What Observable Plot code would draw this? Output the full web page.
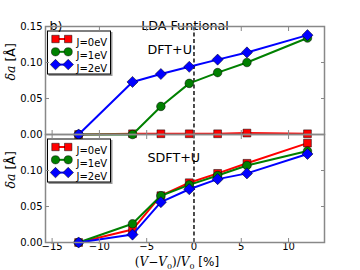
<!DOCTYPE html>
<html><head><meta charset="utf-8">
<script src="https://cdn.jsdelivr.net/npm/d3@7"></script>
<script src="https://cdn.jsdelivr.net/npm/@observablehq/plot@0.6"></script>
<style>body{margin:0;background:#fff}#chart{width:360px;height:270px}</style>
</head><body><div id="chart"></div>
<script>
// ---- data ----
const strain = [-12.2, -6.5, -3.5, -0.5, 2.5, 5.6, 12.0];
const panels = ["DFT+U", "SDFT+U"];
const seriesNames = ["J=0eV", "J=1eV", "J=2eV"];
const dftJ0  = [0.000, 0.001, 0.001, 0.001, 0.001, 0.002, 0.001];
const dftJ1  = [0.000, 0.000, 0.039, 0.071, 0.086, 0.100, 0.134];
const dftJ2  = [0.000, 0.073, 0.084, 0.094, 0.104, 0.114, 0.138];
const sdftJ0 = [0.000, 0.018, 0.065, 0.083, 0.096, 0.110, 0.138];
const sdftJ1 = [0.000, 0.026, 0.065, 0.080, 0.093, 0.107, 0.127];
const sdftJ2 = [0.000, 0.011, 0.056, 0.074, 0.088, 0.096, 0.123];
const xTicks = [-15, -10, -5, 0, 5, 10];
const yTicks = [0, 0.05, 0.10, 0.15];
const title = "LDA Funtional";
const panelTag = "b)";

// ---- build tables ----
const byPanel = {"DFT+U": [dftJ0, dftJ1, dftJ2], "SDFT+U": [sdftJ0, sdftJ1, sdftJ2]};
const rows = [];
panels.forEach(p => byPanel[p].forEach((vals, si) => vals.forEach((v, i) =>
  rows.push({panel: p, series: seriesNames[si], x: strain[i], y: v}))));
const panelRows = panels.map(p => ({panel: p}));
const yTickRows = panels.flatMap(p => yTicks.filter(t => p === panels[0] || t < 0.15).map(t => ({panel: p, y: t})));
const xTickRows = xTicks.map(t => ({panel: panels[1], x: t}));

const colors = ["#ff0000", "#008000", "#0000ff"];
const symbols = ["square", "circle", "diamond2"];
const radii = [4.4, 4.3, 5.0];
const segment = {draw(ctx) { ctx.moveTo(-6.4, 0); ctx.lineTo(6.4, 0); }};
const font = "DejaVu Sans";
const fmtX = d => d < 0 ? "\u2212" + (-d) : String(d);
const axisColor = "#888";

const marks = [];
// dashed zero line
marks.push(Plot.ruleX([0], {stroke: "black", strokeWidth: 1.4, strokeDasharray: "4,2.5"}));
// series
seriesNames.forEach((s, si) => {
  const d = rows.filter(r => r.series === s);
  marks.push(Plot.line(d, {x: "x", y: "y", fy: "panel", stroke: colors[si], strokeWidth: 2}));
  marks.push(Plot.dot(d, {x: "x", y: "y", fy: "panel", symbol: symbols[si], r: radii[si],
    fill: colors[si], stroke: "black", strokeWidth: 0.5}));
});
// legend boxes
marks.push(Plot.frame({insetLeft: 3.5, insetTop: 6, insetRight: 212.5, insetBottom: 59, stroke: "#999", fill: "#999", strokeWidth: 1}));
marks.push(Plot.frame({insetLeft: 2, insetTop: 4.5, insetRight: 214, insetBottom: 60.5, stroke: "black", fill: "white", strokeWidth: 1}));
seriesNames.forEach((s, si) => {
  const dy = 12.5 + 12.8 * si;
  marks.push(Plot.dot(panelRows, {fy: "panel", frameAnchor: "top-left", dx: 16.3, dy, symbol: segment,
    stroke: colors[si], strokeWidth: 2, fill: "none"}));
  [10, 22.7].forEach(dx => marks.push(Plot.dot(panelRows, {fy: "panel", frameAnchor: "top-left", dx, dy,
    symbol: symbols[si], r: radii[si] * 0.95, fill: colors[si], stroke: "black", strokeWidth: 0.5})));
  marks.push(Plot.text(panelRows, {fy: "panel", frameAnchor: "top-left", dx: 31, dy, text: () => s,
    textAnchor: "start", fontSize: 10, fontFamily: font}));
});
// panel labels
marks.push(Plot.text(panelRows, {fy: "panel", text: "panel", frameAnchor: "top-left", dx: 102, dy: 18.5,
  textAnchor: "start", fontSize: 12.7, fontFamily: font}));
// title and tag
marks.push(Plot.text([{panel: panels[0]}], {fy: "panel", text: () => title, frameAnchor: "top", dy: -6,
  fontSize: 12.7, fontFamily: font}));
marks.push(Plot.text([{panel: panels[0]}], {fy: "panel", text: () => panelTag, frameAnchor: "top-left", dx: 4, dy: -6,
  textAnchor: "start", fontSize: 12.7, fontFamily: font}));
// axes: inward ticks on all sides
marks.push(Plot.axisY({ticks: yTicks, anchor: "left", tickSize: -4, tickFormat: () => "", stroke: axisColor, label: null}));
marks.push(Plot.axisY({ticks: yTicks, anchor: "right", tickSize: -4, tickFormat: () => "", stroke: axisColor, label: null}));
marks.push(Plot.axisX({ticks: xTicks, anchor: "top", tickSize: -4, tickFormat: () => "", stroke: axisColor, label: null, facetAnchor: null}));
marks.push(Plot.axisX({ticks: xTicks, anchor: "bottom", tickSize: -4, tickFormat: () => "", stroke: axisColor, label: null, facetAnchor: null}));
marks.push(Plot.text(xTickRows, {fy: "panel", x: "x", text: d => fmtX(d.x), frameAnchor: "bottom", dy: 7.5,
  fontSize: 10, fontFamily: font}));
marks.push(Plot.text(yTickRows, {fy: "panel", y: "y", text: d => d3.format(".2f")(d.y), frameAnchor: "left", dx: -3,
  textAnchor: "end", fontSize: 10, fontFamily: font}));
// axis labels
marks.push(Plot.text(panelRows, {fy: "panel", text: () => "δa [Å]", frameAnchor: "left", dx: -35, rotate: -90,
  fontSize: 12.5, fontFamily: font}));
marks.push(Plot.text([{panel: panels[1]}], {fy: "panel", text: () => "(V−V0)/V0 [%]", frameAnchor: "bottom", dx: -8, dy: 23.5,
  fontSize: 12, fontFamily: font}));
marks.push(Plot.frame({stroke: axisColor, strokeWidth: 1.5}));

const chart = Plot.plot({
  width: 360, height: 270,
  marginTop: 26, marginBottom: 28, marginLeft: 45, marginRight: 36,
  x: {domain: [-15.7, 13.8], axis: null},
  y: {domain: [0, 0.15], axis: null},
  fy: {domain: panels, padding: 0, axis: null},
  style: {fontFamily: font, fontSize: "10px", color: "black", background: "white"},
  marks
});

// mixed italics for math labels
d3.select(chart).selectAll("text").each(function() {
  const t = this.textContent;
  if (t === "δa [Å]") {
    this.innerHTML = '<tspan font-family="DejaVu Serif" font-style="italic">δa</tspan> [Å]';
  } else if (t === "(V−V0)/V0 [%]") {
    this.innerHTML = '<tspan font-family="DejaVu Serif">(<tspan font-style="italic">V</tspan>−<tspan font-style="italic">V</tspan><tspan dy="3" font-size="8">0</tspan><tspan dy="-3">)/</tspan><tspan font-style="italic">V</tspan><tspan dy="3" font-size="8">0</tspan></tspan><tspan dy="-3"> [%]</tspan>';
  }
});
document.getElementById("chart").appendChild(chart);
</script>
</body></html>
